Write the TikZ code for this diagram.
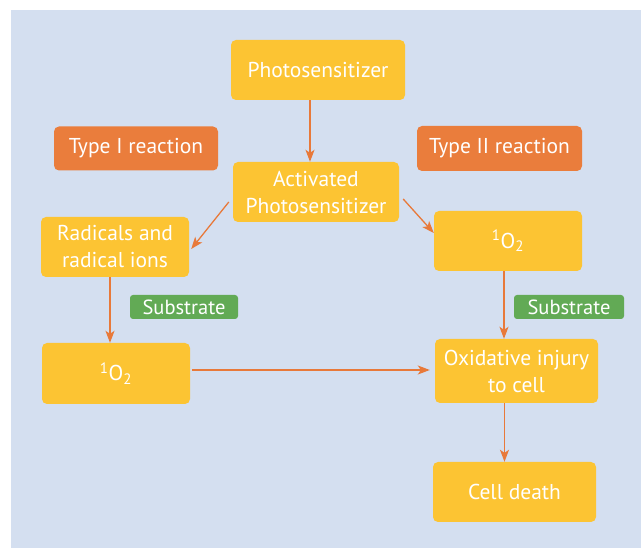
\documentclass[tikz,border=0pt]{standalone}
\usepackage{fontspec}
\setmainfont{PT Sans}
\usepackage{xcolor}
\usetikzlibrary{arrows.meta,positioning}
\definecolor{bgblue}{HTML}{D4DFF0}
\definecolor{boxyellow}{HTML}{FCC433}
\definecolor{typeorange}{HTML}{EA7D3C}
\definecolor{subgreen}{HTML}{62AA55}
\definecolor{arroworange}{HTML}{E8793A}
\newcommand{\singlet}{\textsuperscript{1}O\textsubscript{2}}

\begin{document}
\begin{tikzpicture}[x=1pt, y=-1pt,
  box/.style={fill=boxyellow, rounded corners=5pt, text=white, align=center, inner sep=0pt,
    font=\fontsize{21.5}{27}\selectfont},
  typebox/.style={box, fill=typeorange},
  subbox/.style={box, fill=subgreen, rounded corners=3pt, font=\fontsize{20.5}{24}\selectfont},
  arrow/.style={-{Stealth[length=12pt, width=9pt, inset=3pt]}, draw=arroworange, fill=arroworange, line width=1.3pt}
]
\useasboundingbox (0,0) rectangle (641,548);
\fill[bgblue] (11,10) rectangle (641,548);
\node[box, minimum width=174pt, minimum height=60pt] (photo) at (318,70) {Photosensitizer};
\node[typebox, minimum width=164pt, minimum height=44pt] (typeI) at (136,148.5) {Type I reaction};
\node[typebox, minimum width=165pt, minimum height=45pt] (typeII) at (499.5,148.5) {Type II reaction};
\node[box, minimum width=166pt, minimum height=60pt] (act) at (316,192) {Activated\\Photosensitizer};
\node[box, minimum width=148pt, minimum height=60pt] (rad) at (115,247) {Radicals and\\radical ions};
\node[box, minimum width=148pt, minimum height=60pt] (oR) at (508,241) {\singlet};
\node[subbox, minimum width=108pt, minimum height=24pt] (subL) at (184,307) {Substrate};
\node[subbox, minimum width=110pt, minimum height=24pt] (subR) at (569,307) {Substrate};
\node[box, minimum width=148pt, minimum height=61pt] (oL) at (116,373.5) {\singlet};
\node[box, minimum width=163pt, minimum height=64pt] (ox) at (516.5,371) {Oxidative injury\\to cell};
\node[box, minimum width=163pt, minimum height=60pt] (death) at (514.5,492) {Cell death};
% connectors
\coordinate (photoout) at ([xshift=-8pt]photo.south);
\coordinate (radout) at ([xshift=-5pt]rad.south);
\coordinate (oRout) at ([xshift=-4pt]oR.south);
\coordinate (oLout) at ([xshift=2pt, yshift=3.5pt]oL.east);
\coordinate (oxout) at ([xshift=-12pt]ox.south);
\draw[arrow] (photoout) -- (photoout |- act.north);
\draw[arrow] ([xshift=-4pt, yshift=-10pt]act.west) -- ([xshift=2pt, yshift=-2pt]rad.east);
\draw[arrow] ([xshift=4pt, yshift=-7pt]act.east) -- ([yshift=8pt]oR.west);
\draw[arrow] (radout) -- (radout |- oL.north);
\draw[arrow] (oRout) -- (oRout |- ox.north);
\draw[arrow] (oLout) -- ([xshift=-5pt]oLout -| ox.west);
\draw[arrow] (oxout) -- (oxout |- death.north);
\end{tikzpicture}
\end{document}
